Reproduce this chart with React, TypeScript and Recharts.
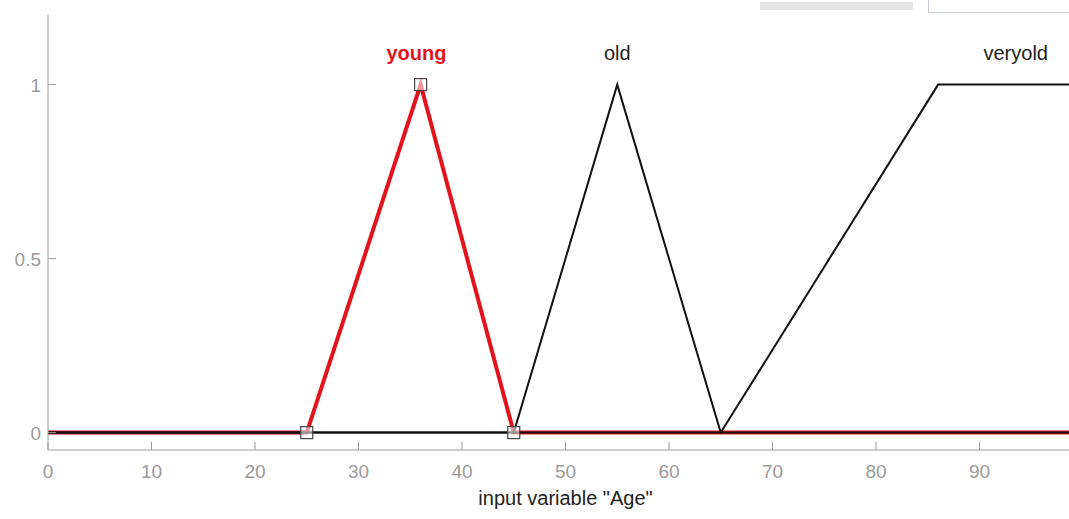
import React from 'react';
import {
  ComposedChart,
  Line,
  Scatter,
  XAxis,
  YAxis,
  ReferenceDot,
} from 'recharts';

// membership function breakpoints for input variable "Age"
const ages = [0, 25, 36, 45, 55, 65, 86, 100];
const youngValues = [0, 0, 1, 0, 0, 0, 0, 0];
const oldValues = [0, 0, 0, 0, 1, 0, 0, 0];
const veryoldValues = [0, 0, 0, 0, 0, 0, 1, 1];

// parameter handles of the selected mf (young)
const youngParams = [25, 36, 45];
const youngParamValues = [0, 1, 0];

const mfNames = ['young', 'old', 'veryold'];
const mfLabelAges = [35.6, 55, 93.5];
const mfLabelLevel = 1.09;

const xTicks = [0, 10, 20, 30, 40, 50, 60, 70, 80, 90];
const yTicks = [0, 0.5, 1];

const RED = '#e3131b';
const AXIS_GRAY = '#9a9a9a';
const FONT = 'Arial, "Liberation Sans", Helvetica, sans-serif';

const data = ages.map((x, i) => ({
  x,
  young: youngValues[i],
  old: oldValues[i],
  veryold: veryoldValues[i],
}));

const handles = youngParams.map((x, i) => ({ x, y: youngParamValues[i] }));

const BottomTick = ({ x, y, payload }: any) => (
  <g>
    <line x1={x} x2={x} y1={y} y2={y - 8} stroke={AXIS_GRAY} strokeWidth={1} />
    <text x={x} y={y + 28} textAnchor="middle" fill={AXIS_GRAY} fontSize={19} fontFamily={FONT}>
      {payload.value}
    </text>
  </g>
);

const TopTick = ({ x, y }: any) => (
  <line x1={x} x2={x} y1={y} y2={y + 8} stroke={AXIS_GRAY} strokeWidth={1} />
);

const LeftTick = ({ x, y, payload }: any) => (
  <g>
    <line x1={x} x2={x + 8} y1={y} y2={y} stroke={AXIS_GRAY} strokeWidth={1} />
    <text x={x - 7} y={y + 7} textAnchor="end" fill={AXIS_GRAY} fontSize={19} fontFamily={FONT}>
      {payload.value}
    </text>
  </g>
);

const Handle = ({ cx, cy }: any) => (
  <rect x={cx - 6} y={cy - 6} width={12} height={12} fill="#fff" fillOpacity={0.55} stroke="#444" strokeWidth={1.2} />
);

export default function App() {
  return (
    <div style={{ position: 'absolute', left: 0, top: 0, width: 1069, height: 519, overflow: 'hidden', background: '#fff' }}>
      {/* cropped GUI bits above the plot */}
      <div style={{ position: 'absolute', left: 760, top: 2, width: 153, height: 8, background: '#e6e6e6' }} />
      <div style={{ position: 'absolute', left: 928, top: -4, width: 160, height: 15, border: '1px solid #c8ccd4', background: '#fff' }} />
      <ComposedChart
        width={1100}
        height={519}
        data={data}
        margin={{ top: 15, right: 17, left: 0, bottom: 0 }}
        style={{ position: 'absolute', left: 0, top: 0 }}
      >
        <XAxis
          dataKey="x"
          type="number"
          domain={[0, 100]}
          ticks={xTicks}
          allowDataOverflow
          height={69}
          tickSize={0}
          tickMargin={0}
          tickLine={false}
          axisLine={{ stroke: AXIS_GRAY }}
          tick={<BottomTick />}
          interval={0}
          label={{ value: 'input variable "Age"', position: 'insideBottom', offset: 14, fill: '#222', fontSize: 20, fontFamily: FONT }}
        />
        <XAxis
          xAxisId="top"
          orientation="top"
          dataKey="x"
          type="number"
          domain={[0, 100]}
          ticks={xTicks}
          height={0}
          tickSize={0}
          tickMargin={0}
          tickLine={false}
          axisLine={{ stroke: AXIS_GRAY }}
          tick={<TopTick />}
          interval={0}
        />
        <YAxis
          type="number"
          domain={[-0.05, 1.2]}
          ticks={yTicks}
          allowDataOverflow
          width={48}
          tickSize={0}
          tickMargin={0}
          tickLine={false}
          axisLine={{ stroke: AXIS_GRAY }}
          tick={<LeftTick />}
          interval={0}
        />
        <Line type="linear" dataKey="young" stroke={RED} strokeWidth={4} dot={false} isAnimationActive={false} />
        <Line type="linear" dataKey="old" stroke="#111" strokeWidth={2} dot={false} isAnimationActive={false} />
        <Line type="linear" dataKey="veryold" stroke="#111" strokeWidth={2} dot={false} isAnimationActive={false} />
        <Scatter data={handles} dataKey="y" shape={<Handle />} isAnimationActive={false} />
        {mfNames.map((name, i) => (
          <ReferenceDot
            key={name}
            x={mfLabelAges[i]}
            y={mfLabelLevel}
            r={0}
            shape={(p: any) => (
              <text
                x={p.cx}
                y={p.cy + 7}
                textAnchor="middle"
                fontSize={20}
                fontFamily={FONT}
                fontWeight={i === 0 ? 'bold' : 'normal'}
                fill={i === 0 ? RED : '#222'}
              >
                {name}
              </text>
            )}
          />
        ))}
      </ComposedChart>
    </div>
  );
}
